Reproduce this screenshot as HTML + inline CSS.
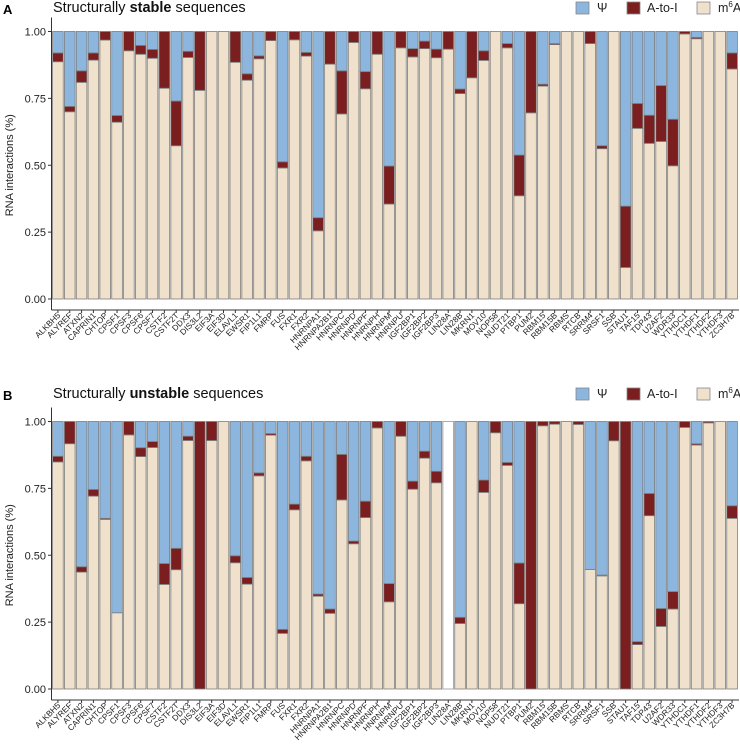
<!DOCTYPE html>
<html><head><meta charset="utf-8"><style>
body{margin:0;background:#fff;}
svg{display:block;font-family:"Liberation Sans",Arial,sans-serif;}
</style></head><body>
<svg id="chart" width="740" height="751" viewBox="0 0 740 751" xmlns="http://www.w3.org/2000/svg"></svg>
<script>
const categories = ["ALKBH5","ALYREF","ATXN2","CAPRIN1","CHTOP","CPSF1","CPSF3","CPSF6","CPSF7","CSTF2","CSTF2T","DDX3","DIS3L2","EIF3A","EIF3D","ELAVL1","EWSR1","FIP1L1","FMRP","FUS","FXR1","FXR2","HNRNPA1","HNRNPA2B1","HNRNPC","HNRNPD","HNRNPF","HNRNPH","HNRNPM","HNRNPU","IGF2BP1","IGF2BP2","IGF2BP3","LIN28A","LIN28B","MKRN1","MOV10","NOP58","NUDT21","PTBP1","PUM2","RBM15","RBM15B","RBMS","RTCB","SRRM4","SRSF1","SSB","STAU1","TAF15","TDP43","U2AF2","WDR33","YTHDC1","YTHDF1","YTHDF2","YTHDF3","ZC3H7B"];
// Panel A (stable): m6A share and A-to-I share (Psi = remainder)
const stableM6A = [0.887,0.70,0.81,0.893,0.968,0.661,0.928,0.915,0.90,0.788,0.573,0.903,0.78,1,1,0.885,0.818,0.898,0.966,0.49,0.969,0.908,0.255,0.878,0.692,0.959,0.786,0.915,0.355,0.939,0.905,0.936,0.902,0.934,0.768,0.827,0.892,1,0.939,0.386,0.696,0.796,0.951,1,1,0.955,0.562,1,0.118,0.638,0.582,0.589,0.498,0.991,0.973,1,1,0.86];
const stableAtoI = [0.033,0.02,0.043,0.027,0.032,0.025,0.072,0.033,0.033,0.212,0.167,0.023,0.22,0,0,0.115,0.024,0.011,0.034,0.023,0.031,0.014,0.049,0.122,0.161,0.041,0.064,0.085,0.142,0.061,0.031,0.028,0.032,0.066,0.017,0.173,0.036,0,0.016,0.152,0.304,0.007,0.004,0,0,0.045,0.011,0,0.229,0.093,0.105,0.209,0.174,0.009,0.005,0,0,0.06];
const stablePsi = [0.08,0.28,0.147,0.08,0,0.314,0,0.052,0.067,0,0.26,0.074,0,0,0,0,0.158,0.091,0,0.487,0,0.078,0.696,0,0.147,0,0.15,0,0.503,0,0.064,0.036,0.066,0,0.215,0,0.072,0,0.045,0.462,0,0.197,0.045,0,0,0,0.427,0,0.653,0.269,0.313,0.202,0.328,0,0.022,0,0,0.08];
// Panel B (unstable)
const unstableM6A = [0.849,0.917,0.437,0.721,0.634,0.285,0.95,0.869,0.903,0.391,0.446,0.929,0,0.929,1,0.472,0.392,0.797,0.949,0.208,0.67,0.853,0.347,0.283,0.707,0.543,0.641,0.976,0.326,0.945,0.747,0.863,0.771,0,0.245,1,0.735,0.958,0.836,0.319,0,0.984,0.99,1,0.989,0.447,0.423,0.928,0,0.166,0.648,0.234,0.299,0.978,0.912,0.995,1,0.638];
const unstableAtoI = [0.021,0.083,0.02,0.025,0.004,0,0.05,0.033,0.022,0.078,0.08,0.016,1,0.071,0,0.026,0.025,0.011,0.006,0.015,0.021,0.017,0.008,0.016,0.17,0.01,0.061,0.024,0.068,0.055,0.03,0.026,0.043,0,0.023,0,0.046,0.042,0.011,0.152,1,0.016,0.01,0,0.011,0,0.003,0.072,1,0.011,0.083,0.067,0.065,0.022,0.005,0.005,0,0.047];
const unstablePsi = [0.13,0,0.543,0.254,0.362,0.715,0,0.098,0.075,0.531,0.474,0.055,0,0,0,0.502,0.583,0.192,0.045,0.777,0.309,0.13,0.645,0.701,0.123,0.447,0.298,0,0.606,0,0.223,0.111,0.186,0,0.732,0,0.219,0,0.153,0.529,0,0,0,0,0,0.553,0.574,0,0,0.823,0.269,0.699,0.636,0,0.083,0,0,0.315];
const yTicks = [0,0.25,0.5,0.75,1];
const yTickLabels = ["0.00","0.25","0.50","0.75","1.00"];

const NS="http://www.w3.org/2000/svg";
const svg=document.getElementById('chart');
const COL={psi:"#8db6de",atoi:"#7a1e20",m6a:"#f0e1cc"};
function mk(tag,attrs,parent){const e=document.createElementNS(NS,tag);for(const k in attrs)e.setAttribute(k,attrs[k]);(parent||svg).appendChild(e);return e;}

function panel(cfg){
  const g=mk('g',{});
  
  
  const left=52, right=738, y0=cfg.y0, y1=cfg.y1, axisY=y0+11;
  const pitch=(right-left)/categories.length;
  const yS=v=>y0-(y0-y1)*v;
  const xS=i=>left+i*pitch;
  // panel letter + title
  const L=mk('text',{x:3,y:cfg.titleY+2,'font-size':13,'font-weight':'bold',fill:'#000'},g);L.textContent=cfg.letter;
  
  
  const T=mk('text',{x:53,y:cfg.titleY,'font-size':14.5,fill:'#111'},g);
  
  
  T.innerHTML='Structurally <tspan font-weight="bold">'+cfg.word+'</tspan> sequences';
  // legend
  const leg=[["Ψ",COL.psi,576,597],["A-to-I",COL.atoi,627,647],["m6A",COL.m6a,697,718]];
  leg.forEach(([lab,c,bx,tx])=>{
    const r=mk('rect',{x:bx,y:cfg.titleY-10,width:13,height:12,fill:c,stroke:'#888','stroke-width':0.8},g);
    
    
    const t=mk('text',{x:tx,y:cfg.titleY,'font-size':12.5,fill:'#222'},g);
    
    
    if(lab==="m6A") t.innerHTML='m<tspan font-size="8" dy="-5">6</tspan><tspan dy="5">A</tspan>'; else t.textContent=lab;
  });
  // axes
  const ya=mk('line',{x1:51.5,x2:51.5,y1:y1-14,y2:axisY,stroke:'#333','stroke-width':1},g);
  
  
  const xa=mk('line',{x1:51.5,x2:right+1,y1:axisY,y2:axisY,stroke:'#333','stroke-width':1},g);
  
  
  yTicks.forEach((v,i)=>{
    mk('line',{x1:48,x2:51.5,y1:yS(v),y2:yS(v),stroke:'#333'},g);
    const t=mk('text',{x:46,y:yS(v)+4,'font-size':11,'text-anchor':'end',fill:'#222'},g);
    
    
    t.textContent=yTickLabels[i];
  });
  const yt=mk('text',{x:0,y:0,'font-size':11,'text-anchor':'middle',fill:'#222',transform:`translate(13,${(y0+y1)/2}) rotate(-90)`},g);
  
  
  yt.textContent='RNA interactions (%)';
  // bars
  categories.forEach((c,i)=>{
    const x=xS(i)+0.6,w=pitch-1.2;
    const m=cfg.m6a[i],a=cfg.atoi[i],p=cfg.psi[i];
    const segs=[[0,m,COL.m6a,'m6a'],[m,m+a,COL.atoi,'atoi'],[m+a,m+a+p,COL.psi,'psi']];
    if(m+a+p<0.01){
      const r=mk('rect',{x:x,y:yS(1),width:w,height:yS(0)-yS(1),fill:'#fff',stroke:'#999','stroke-width':0.8},g);
      
      
    }
    segs.forEach(([s,e,col,nm])=>{
      if(e-s<=0.0005) return;
      const r=mk('rect',{x:x,y:yS(e),width:w,height:yS(s)-yS(e),fill:col,stroke:'#7d7d7d','stroke-width':0.8},g);
      
      
    });
    const cx=xS(i)+pitch/2;
    mk('line',{x1:cx,x2:cx,y1:axisY,y2:axisY+3,stroke:'#333'},g);
    const t=mk('text',{x:0,y:0,'font-size':8.3,'text-anchor':'end',fill:'#222',transform:`translate(${cx+3},${axisY+6}) rotate(-45)`},g);
    
    
    t.textContent=c;
  });
}
panel({name:'panel-a-stable',letter:'A',word:'stable',titleY:12,y0:299,y1:31.5,m6a:stableM6A,atoi:stableAtoI,psi:stablePsi});
panel({name:'panel-b-unstable',letter:'B',word:'unstable',titleY:398,y0:689,y1:421.5,m6a:unstableM6A,atoi:unstableAtoI,psi:unstablePsi});
</script>
</body></html>
